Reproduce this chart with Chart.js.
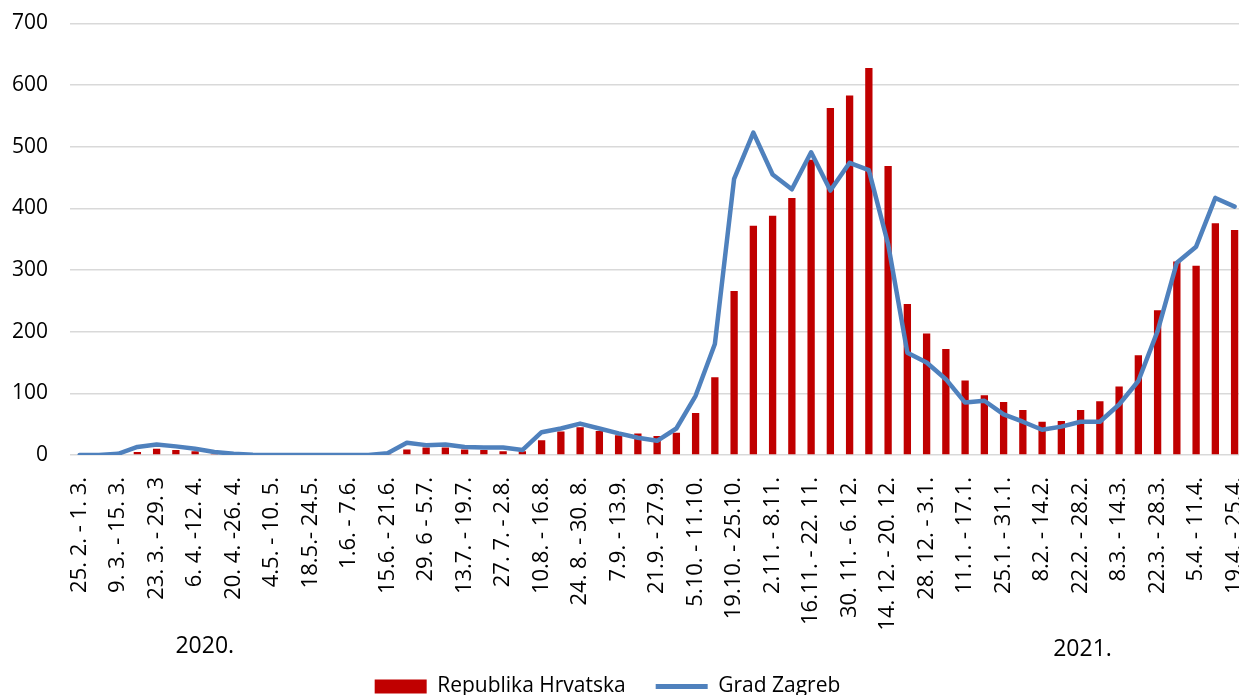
<!DOCTYPE html>
<html>
<head>
<meta charset="utf-8">
<script src="https://cdn.jsdelivr.net/npm/chart.js@4.4.1/dist/chart.umd.min.js"></script>
<style>
  html, body { margin: 0; padding: 0; background: #fff; overflow: hidden; }
  #wrap { position: relative; width: 1275px; height: 707px; }
</style>
</head>
<body>
<div id="wrap"><canvas id="c"></canvas></div>
<script>
// Weekly labels, 25.2.2020 - 25.4.2021 (only every second one is printed on the axis)
var weeks = [
  '25. 2. - 1. 3.', '2.3. - 8.3.', '9. 3. - 15. 3.', '16.3. - 22.3.', '23. 3. - 29. 3', '30.3. - 5.4.',
  '6. 4. -12. 4.', '13.4. - 19.4.', '20. 4. -26. 4.', '27.4. - 3.5.', '4.5. - 10. 5.', '11.5. - 17.5.',
  '18.5.- 24.5.', '25.5. - 31.5.', '1.6. - 7.6.', '8.6. - 14.6.', '15.6. - 21.6.', '22.6. - 28.6.',
  '29. 6 - 5.7.', '6.7. - 12.7.', '13.7. - 19.7.', '20.7. - 26.7.', '27. 7. - 2.8.', '3.8. - 9.8.',
  '10.8. - 16.8.', '17.8. - 23.8.', '24. 8. - 30. 8.', '31.8. - 6.9.', '7.9. - 13.9.', '14.9. - 20.9.',
  '21.9. - 27.9.', '28.9. - 4.10.', '5.10. - 11.10.', '12.10. - 18.10.', '19.10. - 25.10.', '26.10. - 1.11.',
  '2.11. - 8.11.', '9.11. - 15.11.', '16.11. - 22. 11.', '23.11. - 29.11.', '30. 11. - 6. 12.', '7.12. - 13.12.',
  '14. 12. - 20. 12.', '21.12. - 27.12.', '28. 12. - 3.1.', '4.1. - 10.1.', '11.1. - 17.1.', '18.1. - 24.1.',
  '25.1. - 31.1.', '1.2. - 7.2.', '8.2. - 14.2.', '15.2. - 21.2.', '22.2. - 28.2.', '1.3. - 7.3.',
  '8.3. - 14.3.', '15.3. - 21.3.', '22.3. - 28.3.', '29.3. - 4.4.', '5.4. - 11.4.', '12.4. - 18.4.',
  '19.4. - 25.4.'
];

// Republika Hrvatska (bars)
var hrvatska = [
  0, 0, 2, 5, 10, 8, 6, 2, 1, 0,
  0, 0, 0, 0, 0, 0, 2, 9, 12, 12,
  9, 8, 6, 6, 24, 38, 45, 39, 32, 35,
  31, 36, 68, 126, 266, 372, 388, 417, 479, 563,
  583, 628, 469, 245, 197, 172, 121, 97, 86, 73,
  54, 55, 73, 87, 111, 162, 235, 314, 307, 376,
  365
];

// Grad Zagreb (line)
var zagreb = [
  0, 0, 2, 13, 17, 14, 10, 5, 2, 0.5,
  0, 0, 0, 0, 0, 0, 3, 20, 16, 17,
  13, 12, 12, 8, 37, 43, 51, 43, 35, 28,
  23, 43, 96, 180, 448, 523, 455, 431, 491, 429,
  474, 462, 342, 166, 150, 123, 85, 88, 66, 54,
  41, 46, 54, 54, 82, 120, 201, 312, 338, 417,
  403
];

var seriesNames = ['Republika Hrvatska', 'Grad Zagreb'];
var yTicks = [0, 100, 200, 300, 400, 500, 600, 700];
var years = ['2020.', '2021.'];
var yearAt = [6.5, 52.1]; // category index under which each year is written

var FONT = '"Open Sans", "DejaVu Sans", sans-serif';
var RED = '#c00000', BLUE = '#4f81bd', GRID = '#d9d9d9';

// year captions under the week labels, and a nudge of the legend to the left
var extras = {
  id: 'extras',
  afterLayout: function (chart) {
    chart.legend.left -= 30;
    chart.legend.right -= 30;
  },
  afterDraw: function (chart) {
    var ctx = chart.ctx, x = chart.scales.x;
    ctx.save();
    ctx.font = '23px ' + FONT;
    ctx.fillStyle = '#000';
    ctx.textAlign = 'center';
    ctx.textBaseline = 'middle';
    years.forEach(function (t, i) {
      ctx.fillText(t, x.getPixelForValue(yearAt[i]), chart.chartArea.bottom + 191 + i * 3);
    });
    ctx.restore();
  }
};

new Chart(document.getElementById('c'), {
  data: {
    labels: weeks,
    datasets: [
      {
        type: 'line', label: seriesNames[1], data: zagreb,
        borderColor: BLUE, backgroundColor: BLUE, borderWidth: 4.5,
        pointRadius: 0, tension: 0, borderJoinStyle: 'round', borderCapStyle: 'round',
        order: 0
      },
      {
        type: 'bar', label: seriesNames[0], data: hrvatska,
        backgroundColor: RED, borderWidth: 0,
        categoryPercentage: 1, barPercentage: 0.38,
        order: 1
      }
    ]
  },
  options: {
    responsive: true, maintainAspectRatio: false, animation: false,
    layout: { padding: { top: 23.5, left: 0, right: 0, bottom: 0 }, autoPadding: false },
    plugins: {
      tooltip: { enabled: false },
      legend: {
        position: 'bottom',
        reverse: true,
        labels: {
          font: { family: FONT, size: 21 }, color: '#000',
          usePointStyle: true, pointStyleWidth: 52, boxHeight: 14, padding: 30,
          generateLabels: function (chart) {
            var items = Chart.defaults.plugins.legend.labels.generateLabels(chart);
            items.forEach(function (it) {
              if (it.datasetIndex === 0) {
                it.pointStyle = 'line'; it.strokeStyle = BLUE; it.lineWidth = 5;
              } else {
                it.pointStyle = 'rect'; it.fillStyle = RED; it.lineWidth = 0;
              }
            });
            return items;
          }
        }
      }
    },
    scales: {
      x: {
        grid: { display: false },
        border: { display: false },
        afterFit: function (s) { s.height = 191; },
        ticks: {
          autoSkip: false, minRotation: 90, maxRotation: 90, padding: 14,
          color: '#000', font: { family: FONT, size: 22 },
          callback: function (v, i) { return i % 2 === 0 ? weeks[i] : ''; }
        }
      },
      y: {
        min: 0, max: 700,
        afterBuildTicks: function (s) { s.ticks = yTicks.map(function (v) { return { value: v }; }); },
        afterFit: function (s) { s.width = 70; s.paddingTop = 0; s.paddingBottom = 0; },
        grid: { color: GRID, lineWidth: 1.5, drawTicks: false },
        border: { display: false },
        ticks: { padding: 22, color: '#000', font: { family: FONT, size: 21 } }
      }
    }
  },
  plugins: [extras]
});
</script>
</body>
</html>
